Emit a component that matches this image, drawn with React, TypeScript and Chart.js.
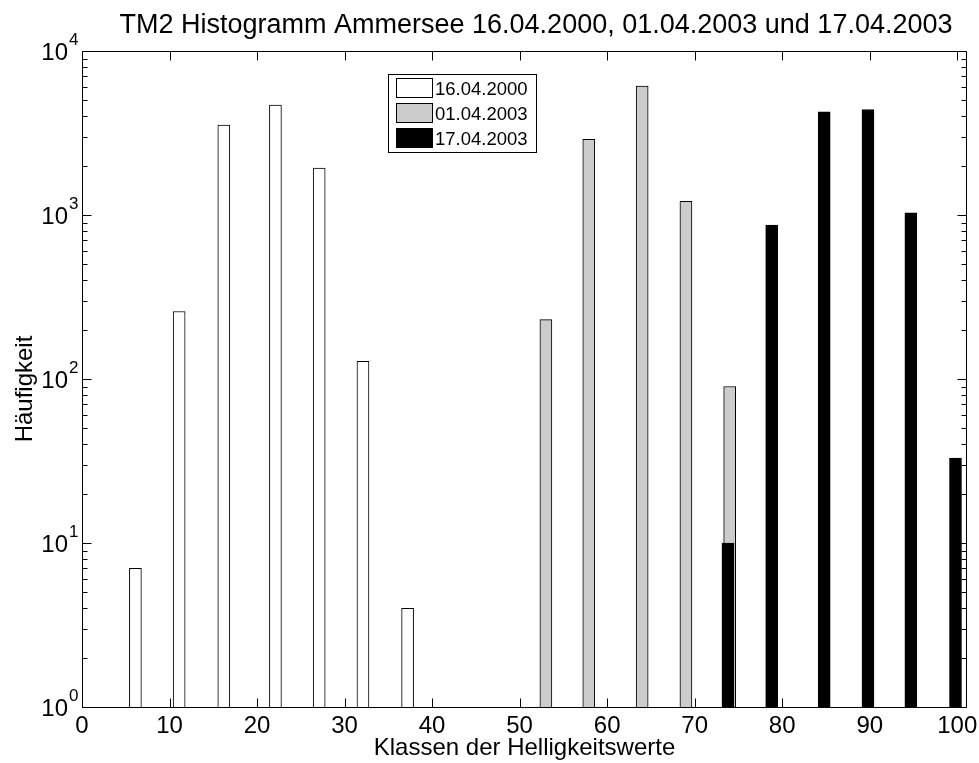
import React, { useEffect, useRef } from "react";
import { Chart, registerables } from "chart.js";

Chart.register(...registerables);

const chartTitle = "TM2 Histogramm Ammersee 16.04.2000, 01.04.2003 und 17.04.2003";
const xAxisTitle = "Klassen der Helligkeitswerte";
const yAxisTitle = "Häufigkeit";
const seriesNames = ["16.04.2000", "01.04.2003", "17.04.2003"];
const seriesColors = ["#ffffff", "#cccccc", "#000000"];

const x2000 = [6.1, 11.1, 16.2, 22.1, 27.1, 32.1, 37.2];
const y2000 = [7, 258, 3530, 4680, 1930, 128, 4];
const x0103 = [53.0, 57.9, 64.0, 69.0, 74.0];
const y0103 = [230, 2890, 6110, 1210, 90];
const x1703 = [73.8, 78.8, 84.8, 89.8, 94.7, 99.8];
const y1703 = [10, 869, 4250, 4400, 1030, 33];

const xTickValues = [0, 10, 20, 30, 40, 50, 60, 70, 80, 90, 100];
const yDecades = [0, 1, 2, 3, 4];
const xMin = 0;
const xMax = 101;
const yMin = 1;
const yMax = 10000;

const FONT = '"Liberation Sans", Arial, Helvetica, sans-serif';

const toPoints = (xs: number[], ys: number[]) => xs.map((x, i) => ({ x, y: ys[i] }));

const decorPlugin = {
  id: "matlabDecor",
  afterDraw(chart: any) {
    const ctx: CanvasRenderingContext2D = chart.ctx;
    const { left, right, top, bottom } = chart.chartArea;
    const xs = chart.scales.x;
    const ys = chart.scales.y;
    ctx.save();
    ctx.strokeStyle = "#000";
    ctx.fillStyle = "#000";
    ctx.lineWidth = 1;
    const L = Math.round(left) + 0.5;
    const R = Math.round(right) + 0.5;
    const T = Math.round(top) + 0.5;
    const B = Math.round(bottom) + 0.5;
    ctx.beginPath();
    ctx.rect(L, T, R - L, B - T);
    ctx.stroke();

    // x ticks
    ctx.beginPath();
    xTickValues.forEach((v) => {
      const p = Math.round(xs.getPixelForValue(v)) + 0.5;
      ctx.moveTo(p, B);
      ctx.lineTo(p, B - 9);
      ctx.moveTo(p, T);
      ctx.lineTo(p, T + 9);
    });
    // y ticks
    yDecades.forEach((d) => {
      const p = Math.round(ys.getPixelForValue(Math.pow(10, d))) + 0.5;
      ctx.moveTo(L, p);
      ctx.lineTo(L + 9, p);
      ctx.moveTo(R, p);
      ctx.lineTo(R - 9, p);
      if (d < yDecades[yDecades.length - 1]) {
        for (let m = 2; m <= 9; m++) {
          const q = Math.round(ys.getPixelForValue(m * Math.pow(10, d))) + 0.5;
          ctx.moveTo(L, q);
          ctx.lineTo(L + 5, q);
          ctx.moveTo(R, q);
          ctx.lineTo(R - 5, q);
        }
      }
    });
    ctx.stroke();

    // x tick labels
    ctx.font = `24px ${FONT}`;
    ctx.textAlign = "center";
    ctx.textBaseline = "alphabetic";
    xTickValues.forEach((v) => {
      ctx.fillText(String(v), xs.getPixelForValue(v), B + 25);
    });

    // y tick labels 10^d
    yDecades.forEach((d) => {
      const p = ys.getPixelForValue(Math.pow(10, d));
      ctx.font = `17px ${FONT}`;
      ctx.textAlign = "right";
      const exp = String(d);
      const ew = ctx.measureText(exp).width;
      ctx.fillText(exp, L - 4, p - 6);
      ctx.font = `24px ${FONT}`;
      ctx.fillText("10", L - 4 - ew - 1, p + 9);
    });

    // axis titles
    ctx.font = `24px ${FONT}`;
    ctx.textAlign = "center";
    ctx.fillText(xAxisTitle, (L + R) / 2, 755);
    ctx.save();
    ctx.translate(32, 389);
    ctx.rotate(-Math.PI / 2);
    ctx.fillText(yAxisTitle, 0, 0);
    ctx.restore();

    // chart title
    ctx.font = `27px ${FONT}`;
    ctx.textAlign = "center";
    ctx.fillText(chartTitle, 536, 33);

    // legend
    const lx = 388.5, ly = 74.5, lw = 148, lh = 78;
    ctx.fillStyle = "#fff";
    ctx.fillRect(lx, ly, lw, lh);
    ctx.strokeStyle = "#000";
    ctx.strokeRect(lx, ly, lw, lh);
    const rowsY = [88, 113, 138];
    ctx.font = `18.5px ${FONT}`;
    ctx.textAlign = "left";
    seriesNames.forEach((name, i) => {
      const cy = rowsY[i];
      ctx.fillStyle = seriesColors[i];
      ctx.fillRect(396.5, cy - 9.5, 36, 19);
      ctx.strokeStyle = "#000";
      ctx.strokeRect(396.5, cy - 9.5, 36, 19);
      ctx.fillStyle = "#000";
      ctx.fillText(name, 435, cy + 6.5);
    });
    ctx.restore();
  },
};

export default function App() {
  const ref = useRef<HTMLCanvasElement | null>(null);
  useEffect(() => {
    if (!ref.current) return;
    const barCommon = {
      barThickness: 12,
      grouped: false,
      borderWidth: 1,
      borderColor: "#000",
      borderSkipped: "start",
    };
    const chart = new Chart(ref.current, {
      type: "bar",
      data: {
        datasets: [
          { ...barCommon, label: seriesNames[0], data: toPoints(x2000, y2000), backgroundColor: seriesColors[0], order: 2 },
          { ...barCommon, label: seriesNames[1], data: toPoints(x0103, y0103), backgroundColor: seriesColors[1], order: 1 },
          { ...barCommon, label: seriesNames[2], data: toPoints(x1703, y1703), backgroundColor: seriesColors[2], order: 0 },
        ] as any,
      },
      options: {
        responsive: false,
        animation: false,
        devicePixelRatio: 1,
        layout: { padding: { left: 82, right: 13, top: 51, bottom: 56 } },
        plugins: { legend: { display: false }, tooltip: { enabled: false }, title: { display: false } },
        scales: {
          x: { type: "linear", display: false, min: xMin, max: xMax, offset: false },
          y: { type: "logarithmic", display: false, min: yMin, max: yMax, stacked: false },
        },
      } as any,
      plugins: [decorPlugin],
    });
    return () => chart.destroy();
  }, []);
  return (
    <div style={{ position: "absolute", left: 0, top: 0, width: 979, height: 763, background: "#fff" }}>
      <canvas ref={ref} width={979} height={763} style={{ width: 979, height: 763, display: "block" }} />
    </div>
  );
}
